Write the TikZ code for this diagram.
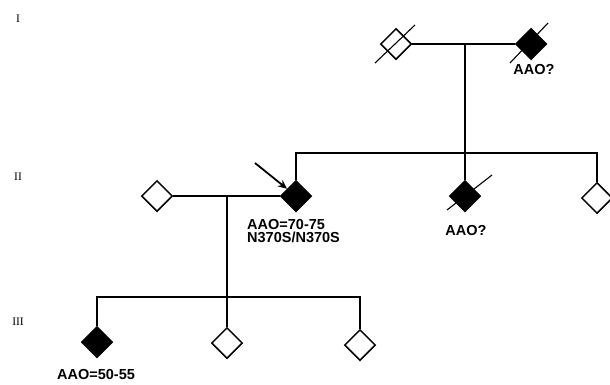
\documentclass[tikz,border=0pt]{standalone}
\usepackage{fontspec}
\newfontfamily\lblfont{Liberation Sans}
\newfontfamily\genfont{Liberation Serif}
\usepackage{tikz}
\usetikzlibrary{arrows.meta, positioning, shapes.geometric}

\begin{document}
\begin{tikzpicture}[
  x=1pt, y=-1pt,
  indiv/.style={draw, diamond, line width=1.5pt, inner sep=0pt, minimum width=31pt, minimum height=31pt, fill=white},
  aff/.style={indiv, fill=black},
  link/.style={line width=1.4pt},
  slash/.style={line width=1.1pt},
  lbl/.style={font=\lblfont\bfseries\fontsize{14.5}{13.5}\selectfont, inner sep=0pt, align=left},
  gen/.style={font=\genfont\fontsize{11.5}{13}\selectfont, inner sep=0pt},
  probarrow/.style={-{Stealth[length=9pt, width=8pt]}, line width=1.8pt},
]
\useasboundingbox (0,0) rectangle (610,384);

% Generation labels
\node[gen] (g1) at (18,19) {I};
\node[gen] (g2) at (18,177) {II};
\node[gen] (g3) at (18,322) {III};

% Generation I
\node[indiv] (i1) at (396,44) {};
\node[aff] (i2) at (531,44) {};
\coordinate (m1) at (465,44);
\draw[link] (i1) -- (i2);
\draw[slash] ([shift={(-21,19)}]i1.center) -- ([shift={(19,-19)}]i1.center);
\draw[slash] ([shift={(-21,19)}]i2.center) -- ([shift={(17,-21)}]i2.center);
\node[lbl] (l2) at (534,70) {AAO?};

% Generation II
\coordinate (sib2) at (465,153);
\draw[link] (m1) -- (sib2);
\node[indiv] (ii1) at (157,196) {};
\node[aff] (ii2) at (296,196) {};
\node[aff] (ii4) at (465,196) {};
\node[indiv] (ii5) at (597,198) {};
\draw[link] (ii2.north) |- (sib2) -| (ii5.north);
\draw[link] (sib2) -- (ii4.north);
\draw[link] (ii1.east) -- (ii2.west);
\draw[slash] ([shift={(-18,14)}]ii4.center) -- ([shift={(27,-21)}]ii4.center);
\coordinate (arr) at (255,163);
\draw[probarrow] (arr) -- (ii2);
\node[lbl, anchor=north west] (l22) at (247,219) {AAO=70-75\\N370S/N370S};
\node[lbl] (l24) at (466,230) {AAO?};

% Generation III
\coordinate (m2) at (227,196);
\coordinate (sib3) at (227,297);
\draw[link] (m2) -- (sib3);
\node[aff] (iii1) at (97,342) {};
\node[indiv] (iii2) at (227,343) {};
\node[indiv] (iii3) at (360,345) {};
\draw[link] (iii1.north) |- (sib3) -| (iii3.north);
\draw[link] (sib3) -- (iii2.north);
\node[lbl] (l31) at (96,374) {AAO=50-55};
\end{tikzpicture}
\end{document}
